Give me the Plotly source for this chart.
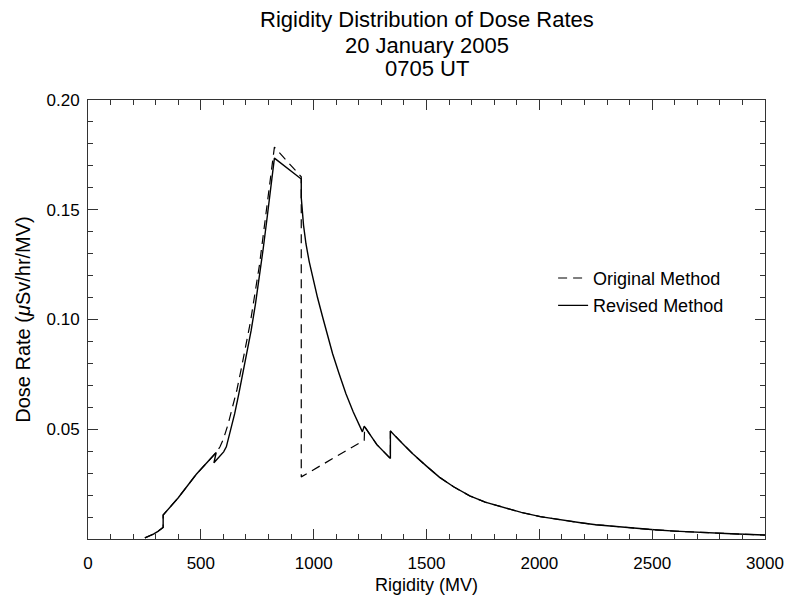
import plotly.graph_objects as go

# Revised method (solid)
rev_x = [252, 270, 290, 310, 333, 333, 400, 480, 568, 558, 601, 613, 630, 650, 668, 686,
         705, 723, 742, 760, 776, 792, 808, 826,
         945, 945, 955, 966, 980, 995, 1017, 1040, 1062, 1084, 1112, 1143, 1175, 1216,
         1224, 1280, 1340, 1340, 1390, 1439, 1500, 1558, 1620, 1692, 1760, 1840, 1920,
         2004, 2090, 2183, 2250, 2331, 2420, 2509, 2600, 2703, 2850, 3000]
rev_y = [0.0005, 0.0012, 0.0022, 0.0035, 0.0053, 0.0109, 0.0188, 0.0295, 0.0394, 0.0347,
         0.0397, 0.0420, 0.0490, 0.0571, 0.0660, 0.0753, 0.0850, 0.0950, 0.1070, 0.1192,
         0.1320, 0.1450, 0.1590, 0.1735,
         0.1640, 0.1556, 0.1430, 0.1344, 0.1265, 0.1192, 0.1100, 0.1010, 0.0925, 0.0844,
         0.0755, 0.0662, 0.0580, 0.0488,
         0.0514, 0.0430, 0.0367, 0.0492, 0.0438, 0.0388, 0.0332, 0.0281, 0.0238, 0.0196,
         0.0168, 0.0143, 0.0121, 0.0102, 0.0087, 0.0074, 0.0065, 0.0057, 0.0049, 0.0042,
         0.0036, 0.0030, 0.0024, 0.0018]

# Original method (dashed)
orig_x = [252, 270, 290, 310, 333, 333, 400, 480, 568, 585, 600, 620, 640, 660, 680, 700,
          720, 740, 760, 776, 792, 808, 826,
          945, 945, 1224, 1226, 1280, 1340, 1340, 1390, 1439, 1500, 1558, 1620, 1692, 1760,
          1840, 1920, 2004, 2090, 2183, 2250, 2331, 2420, 2509, 2600, 2703, 2850, 3000]
orig_y = [0.0005, 0.0012, 0.0022, 0.0035, 0.0053, 0.0109, 0.0188, 0.0295, 0.0394, 0.0420,
          0.0455, 0.0520, 0.0595, 0.0680, 0.0780, 0.0880, 0.0990, 0.1120, 0.1250, 0.1380,
          0.1510, 0.1640, 0.1785,
          0.1650, 0.0283, 0.0450, 0.0512, 0.0430, 0.0367, 0.0492, 0.0438, 0.0388, 0.0332,
          0.0281, 0.0238, 0.0196, 0.0168, 0.0143, 0.0121, 0.0102, 0.0087, 0.0074, 0.0065,
          0.0057, 0.0049, 0.0042, 0.0036, 0.0030, 0.0024, 0.0018]

x_ticks = [0, 500, 1000, 1500, 2000, 2500, 3000]
y_ticks = [0.05, 0.10, 0.15, 0.20]
y_tick_text = ["0.05", "0.10", "0.15", "0.20"]
title_lines = ["Rigidity Distribution of Dose Rates", "20 January 2005", "0705 UT"]

FONT = "Liberation Sans, Arial, Helvetica, sans-serif"

fig = go.Figure()
fig.add_trace(go.Scatter(x=orig_x, y=orig_y, mode="lines", name="Original Method",
                         legendgroup="a",
                         line=dict(color="black", width=1.2, dash="9px,6px")))
fig.add_trace(go.Scatter(x=rev_x, y=rev_y, mode="lines", name="Revised Method",
                         legendgroup="b",
                         line=dict(color="black", width=1.4)))

axis_common = dict(showgrid=False, zeroline=False, showline=True, linecolor="#333333",
                   linewidth=1, mirror="allticks", ticks="inside", ticklen=10,
                   tickcolor="#333333", tickwidth=1, automargin=False,
                   tickfont=dict(size=17, color="black", family=FONT))

fig.update_xaxes(range=[0, 3000], tickvals=x_ticks, ticklabelstandoff=9,
                 title=dict(text="Rigidity (MV)", font=dict(size=18, family=FONT, color="black"),
                            standoff=5),
                 minor=dict(dtick=100, tick0=0, ticks="inside", ticklen=5,
                            tickcolor="#333333", showgrid=False),
                 **axis_common)
fig.update_yaxes(range=[0, 0.2], tickvals=y_ticks, ticktext=y_tick_text, ticklabelstandoff=4,
                 title=dict(text="Dose Rate (<i>μ</i>Sv/hr/MV)",
                            font=dict(size=20, family=FONT, color="black"), standoff=10),
                 minor=dict(dtick=0.01, tick0=0, ticks="inside", ticklen=5,
                            tickcolor="#333333", showgrid=False),
                 **axis_common)

plot_top, plot_h = 100, 439
title_centers = [20, 45, 69]
for txt, py in zip(title_lines, title_centers):
    fig.add_annotation(text=txt, xref="paper", yref="paper", x=0.5,
                       y=1 + (plot_top - py) / plot_h, xanchor="center", yanchor="middle",
                       showarrow=False, font=dict(size=22, family=FONT, color="black"))

fig.update_layout(
    width=785, height=602,
    margin=dict(l=88, r=20, t=100, b=63),
    plot_bgcolor="white", paper_bgcolor="white",
    font=dict(family=FONT, color="black"),
    legend=dict(x=0.687, y=0.636, xanchor="left", yanchor="top",
                bgcolor="rgba(0,0,0,0)", font=dict(size=18, family=FONT, color="black"),
                itemwidth=30, tracegroupgap=1),
    showlegend=True,
)

fig.write_html("out.html", config={"displayModeBar": False},
               post_script="document.body.style.margin='0';document.body.style.overflow='hidden';")
